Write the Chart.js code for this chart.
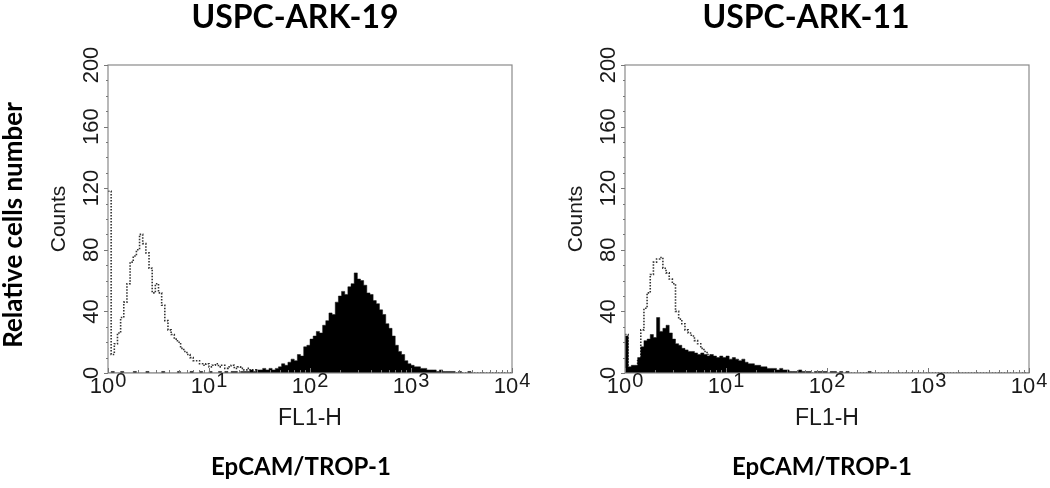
<!DOCTYPE html>
<html>
<head>
<meta charset="utf-8">
<title>EpCAM/TROP-1</title>
<script src="https://cdn.jsdelivr.net/npm/chart.js@4.4.1/dist/chart.umd.min.js"></script>
<style>
  html, body { margin: 0; padding: 0; background: #fff; }
  #wrap { position: relative; width: 1050px; height: 488px; overflow: hidden; }
  canvas { position: absolute; top: 0; }
</style>
</head>
<body>
<div id="wrap">
  <canvas id="grafArk19" width="545" height="488" style="left:0"></canvas>
  <canvas id="grafArk11" width="525" height="488" style="left:525px"></canvas>
</div>
<script>
// canais do histograma (escala log, 32 canais por década)
const channels = 128;
const chPerDecade = 32;
const decades = [0, 1, 2, 3, 4];
const yTicks = [0, 40, 80, 120, 160, 200];

// USPC-ARK-19
const ctrl19 = [
  118, 12, 19, 26, 36, 46, 58, 72, 76, 80, 90, 84, 78, 68, 52, 58,
  52, 44, 34, 28, 25, 22, 20, 16, 14, 12, 10, 8, 8, 6, 5, 6,
  4, 5, 6, 4, 5, 3, 4, 5, 3, 4, 3, 2, 3, 2, 2, 1,
  1, 1, 0, 0, 0, 0, 0, 0, 0, 0, 0, 0, 0, 0, 0, 0,
  0, 0, 0, 0, 0, 0, 0, 0, 0, 0, 0, 0, 0, 0, 0, 0,
  0, 0, 0, 0, 0, 0, 0, 0, 0, 0, 0, 0, 0, 0, 0, 0,
  0, 0, 0, 0, 0, 0, 0, 0, 0, 0, 0, 0, 0, 0, 0, 0,
  0, 0, 0, 0, 0, 0, 0, 0, 0, 0, 0, 0, 0, 0, 0, 0
];
const stain19 = [
  0, 1, 0, 0, 1, 0, 0, 0, 1, 0, 0, 0, 1, 0, 0, 0,
  0, 1, 0, 0, 0, 0, 1, 0, 0, 0, 1, 0, 0, 1, 0, 0,
  1, 0, 0, 1, 0, 1, 0, 1, 1, 0, 1, 1, 1, 2, 1, 2,
  2, 3, 2, 3, 2, 3, 4, 6, 5, 7, 9, 8, 12, 11, 17, 18,
  22, 24, 27, 26, 31, 34, 39, 38, 46, 50, 53, 51, 56, 58, 65, 61,
  60, 57, 52, 51, 47, 45, 41, 38, 32, 29, 24, 18, 14, 12, 8, 6,
  5, 4, 4, 3, 3, 2, 2, 2, 1, 2, 1, 1, 1, 1, 0, 1,
  0, 0, 1, 0, 0, 0, 0, 0, 0, 0, 0, 0, 0, 0, 0, 0
];

// USPC-ARK-11
const ctrl11 = [
  25, 3, 4, 4, 8, 28, 42, 52, 64, 72, 74, 75, 68, 65, 61, 58,
  40, 35, 32, 28, 26, 24, 21, 19, 16, 14, 12, 10, 0, 0, 0, 0,
  0, 0, 0, 0, 0, 0, 0, 0, 0, 0, 0, 0, 0, 0, 0, 0,
  0, 0, 0, 0, 0, 0, 0, 0, 0, 0, 0, 0, 0, 0, 0, 0,
  0, 0, 0, 0, 0, 0, 0, 0, 0, 0, 0, 0, 0, 0, 0, 0,
  0, 0, 0, 0, 0, 0, 0, 0, 0, 0, 0, 0, 0, 0, 0, 0,
  0, 0, 0, 0, 0, 0, 0, 0, 0, 0, 0, 0, 0, 0, 0, 0,
  0, 0, 0, 0, 0, 0, 0, 0, 0, 0, 0, 0, 0, 0, 0, 0
];
const stain11 = [
  24, 4, 5, 5, 10, 17, 21, 22, 25, 23, 36, 27, 29, 31, 26, 22,
  19, 18, 16, 15, 14, 14, 13, 12, 13, 12, 11, 12, 11, 10, 11, 10,
  11, 9, 10, 9, 8, 9, 7, 6, 6, 5, 5, 4, 4, 3, 3, 3,
  2, 3, 2, 2, 1, 1, 1, 2, 1, 1, 1, 0, 1, 1, 1, 1,
  0, 1, 1, 0, 1, 0, 1, 0, 0, 0, 0, 0, 0, 1, 0, 0,
  0, 0, 0, 0, 0, 0, 0, 0, 0, 0, 0, 0, 0, 0, 0, 0,
  0, 0, 0, 0, 0, 0, 0, 0, 0, 0, 0, 0, 0, 0, 0, 0,
  0, 0, 0, 0, 0, 0, 0, 0, 0, 0, 0, 0, 0, 0, 0, 0
];

const sans = '"Liberation Sans", Arial, sans-serif';
const bold = 'Lato, "Open Sans", sans-serif';

// pontos em degrau: canal i vai de i a i+1
function steps(counts) {
  const pts = counts.map((c, i) => ({ x: i, y: c }));
  pts.push({ x: counts.length, y: 0 });
  return pts;
}

// moldura, ticks e textos do FACS
const facsText = {
  id: 'facsText',
  afterDraw(chart, args, o) {
    const ctx = chart.ctx;
    const a = chart.chartArea;
    const xs = chart.scales.x;
    const ys = chart.scales.y;
    ctx.save();

    ctx.strokeStyle = '#8a8a8a';
    ctx.lineWidth = 1.2;
    ctx.strokeRect(a.left, a.top, a.right - a.left, a.bottom - a.top);

    // ticks menores
    ctx.lineWidth = 1;
    ctx.strokeStyle = '#777';
    ctx.beginPath();
    for (let v = 0; v <= 200; v += 10) {
      const y = Math.round(ys.getPixelForValue(v)) + 0.5;
      ctx.moveTo(a.left - (v % 40 === 0 ? 4 : 2), y);
      ctx.lineTo(a.left, y);
    }
    decades.forEach(d => {
      for (let k = 1; k <= 9; k++) {
        if (d === 4 && k > 1) break;
        const x = Math.round(xs.getPixelForValue((d + Math.log10(k)) * chPerDecade)) + 0.5;
        ctx.moveTo(x, a.bottom);
        ctx.lineTo(x, a.bottom - (k === 1 ? 5 : 3));
      }
    });
    ctx.stroke();

    ctx.fillStyle = '#1a1a1a';
    ctx.font = '22px ' + sans;
    ctx.textAlign = 'center';
    ctx.textBaseline = 'middle';
    yTicks.forEach(v => {
      ctx.save();
      ctx.translate(a.left - 16, ys.getPixelForValue(v));
      ctx.rotate(-Math.PI / 2);
      ctx.fillText(String(v), 0, 0);
      ctx.restore();
    });

    ctx.save();
    ctx.translate(a.left - 49, (a.top + a.bottom) / 2);
    ctx.rotate(-Math.PI / 2);
    ctx.font = '21px ' + sans;
    ctx.fillText('Counts', 0, 0);
    ctx.restore();

    // 10^n
    ctx.textAlign = 'left';
    ctx.textBaseline = 'alphabetic';
    decades.forEach(d => {
      const x = xs.getPixelForValue(d * chPerDecade);
      ctx.font = '22px ' + sans;
      const w1 = ctx.measureText('10').width;
      ctx.font = '20px ' + sans;
      const w2 = ctx.measureText(String(d)).width;
      const x0 = x - (w1 + 1 + w2) / 2;
      ctx.font = '22px ' + sans;
      ctx.fillText('10', x0, a.bottom + 20);
      ctx.font = '20px ' + sans;
      ctx.fillText(String(d), x0 + w1 + 1, a.bottom + 14);
    });

    ctx.textAlign = 'center';
    ctx.font = '23px ' + sans;
    ctx.fillText('FL1-H', (a.left + a.right) / 2, a.bottom + 52);

    ctx.fillStyle = '#000';
    ctx.font = 'bold 32px ' + bold;
    ctx.fillText(o.title, o.titleX, 28);
    ctx.font = 'bold 24px ' + bold;
    ctx.fillText('EpCAM/TROP-1', o.bottomX, 475);

    if (o.sideLabel) {
      ctx.save();
      ctx.translate(14, 225);
      ctx.rotate(-Math.PI / 2);
      ctx.textBaseline = 'middle';
      ctx.font = 'bold 26px ' + bold;
      ctx.fillText(o.sideLabel, 0, 0);
      ctx.restore();
    }
    ctx.restore();
  }
};

function makeChart(id, stain, ctrl, yWidth, padRight, text) {
  const ctx = document.getElementById(id).getContext('2d');
  return new Chart(ctx, {
    type: 'line',
    data: {
      datasets: [{
        label: 'EpCAM/TROP-1',
        data: steps(stain),
        stepped: true,
        fill: 'origin',
        backgroundColor: '#000',
        borderColor: '#111',
        borderWidth: 0.5,
        pointRadius: 0
      }, {
        label: 'controle',
        data: steps(ctrl),
        stepped: true,
        fill: false,
        borderColor: '#333',
        borderWidth: 1.6,
        borderDash: [1.5, 1.5],
        pointRadius: 0
      }]
    },
    options: {
      responsive: false,
      animation: false,
      devicePixelRatio: 1,
      layout: { padding: { top: 65, right: padRight, left: 0, bottom: 0 } },
      plugins: {
        legend: { display: false },
        tooltip: { enabled: false },
        facsText: text
      },
      scales: {
        x: {
          type: 'linear', min: 0, max: channels,
          ticks: { display: false },
          grid: { display: false, drawTicks: false },
          border: { display: false },
          afterFit: s => { s.height = 115; }
        },
        y: {
          min: 0, max: 200,
          ticks: { display: false },
          grid: { display: false, drawTicks: false },
          border: { display: false },
          afterFit: s => { s.width = yWidth; }
        }
      }
    },
    plugins: [facsText]
  });
}

const chart19 = makeChart('grafArk19', stain19, ctrl19, 108, 33, {
  title: 'USPC-ARK-19', titleX: 295, bottomX: 301, sideLabel: 'Relative cells number'
});
const chart11 = makeChart('grafArk11', stain11, ctrl11, 100, 21, {
  title: 'USPC-ARK-11', titleX: 281, bottomX: 297
});
</script>
</body>
</html>
